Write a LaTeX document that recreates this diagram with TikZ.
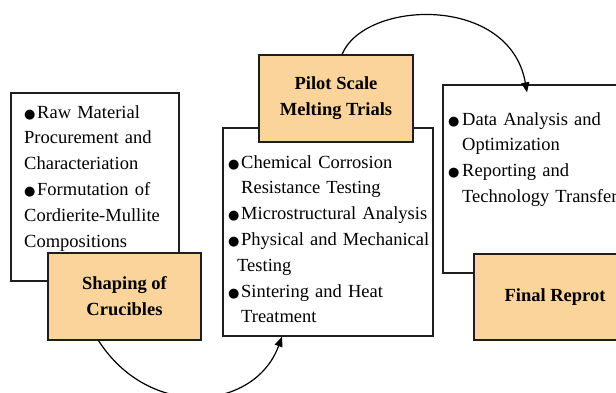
\documentclass[tikz,border=0pt]{standalone}
\usepackage{fontspec}
\setmainfont{Liberation Serif}
\newfontfamily\symfont{DejaVu Sans}
\usetikzlibrary{arrows.meta,calc}
\definecolor{stageorange}{RGB}{250,212,154}
\definecolor{edgegray}{RGB}{30,30,30}
\newcommand\blt{\makebox[13pt][l]{{\symfont\fontsize{13}{13}\selectfont ●}}}
\tikzset{
  whitebox/.style={draw=edgegray,fill=white,line width=1.2pt,rectangle,inner sep=0pt},
  stagebox/.style={draw=edgegray,fill=stageorange,line width=1.2pt,rectangle,inner sep=0pt,
    align=center,font=\fontsize{18.5}{26}\selectfont\bfseries},
  listtext/.style={anchor=base west,inner sep=0pt,text width=#1,align=left,
    font=\fontsize{18.5}{25.8}\selectfont},
  flowarrow/.style={draw=black,line width=1.2pt,-{Triangle[length=10pt,width=8pt]}}
}
\begin{document}
\begin{tikzpicture}[x=1pt,y=-1pt]
\useasboundingbox (0,0) rectangle (616,392);
\clip (0,0) rectangle (616,392);
% left group
\node[whitebox,minimum width=168pt,minimum height=188pt] (box1) at (95,187) {};
\node[listtext=160pt] (t1) at (24,118) {\blt Raw Material\\Procurement and\\Characteriation\\\blt Formutation of\\Cordierite-Mullite\\Compositions};
\node[stagebox,minimum width=153pt,minimum height=87pt] (shape) at (124.5,296.5) {Shaping of\\Crucibles};
% middle group
\node[whitebox,minimum width=210pt,minimum height=208pt] (box2) at (328,232) {};
\node[stagebox,minimum width=154pt,minimum height=87pt] (pilot) at (336,98.5) {Pilot Scale\\Melting Trials};
\node[listtext=205pt] (t2) at (228,168) {\blt Chemical Corrosion\\\hspace*{13pt}Resistance Testing\\\blt Microstructural Analysis\\\blt Physical and Mechanical\\\hspace*{9pt}Testing\\\blt Sintering and Heat\\\hspace*{13pt}Treatment};
% right group
\node[whitebox,minimum width=197pt,minimum height=188pt] (box3) at (541.5,179) {};
\node[listtext=200pt] (t3) at (448,125) {\makebox[14pt][l]{\blt}Data Analysis and\\\hspace*{14pt}Optimization\\\makebox[14pt][l]{\blt}Reporting and\\\hspace*{14pt}Technology Transfer};
\node[stagebox,minimum width=162pt,minimum height=86pt] (final) at (555,297) {Final Reprot};
% connectors
\draw[flowarrow] ([xshift=-26pt]shape.south) .. controls +(51.5,80) and +(-27,74) .. ([xshift=-46pt]box2.south);
\draw[flowarrow] ([xshift=6pt]pilot.north) .. controls +(23,-55) and +(-17,-98) .. ([xshift=-14.5pt,yshift=-8pt]box3.north);
\end{tikzpicture}
\end{document}
